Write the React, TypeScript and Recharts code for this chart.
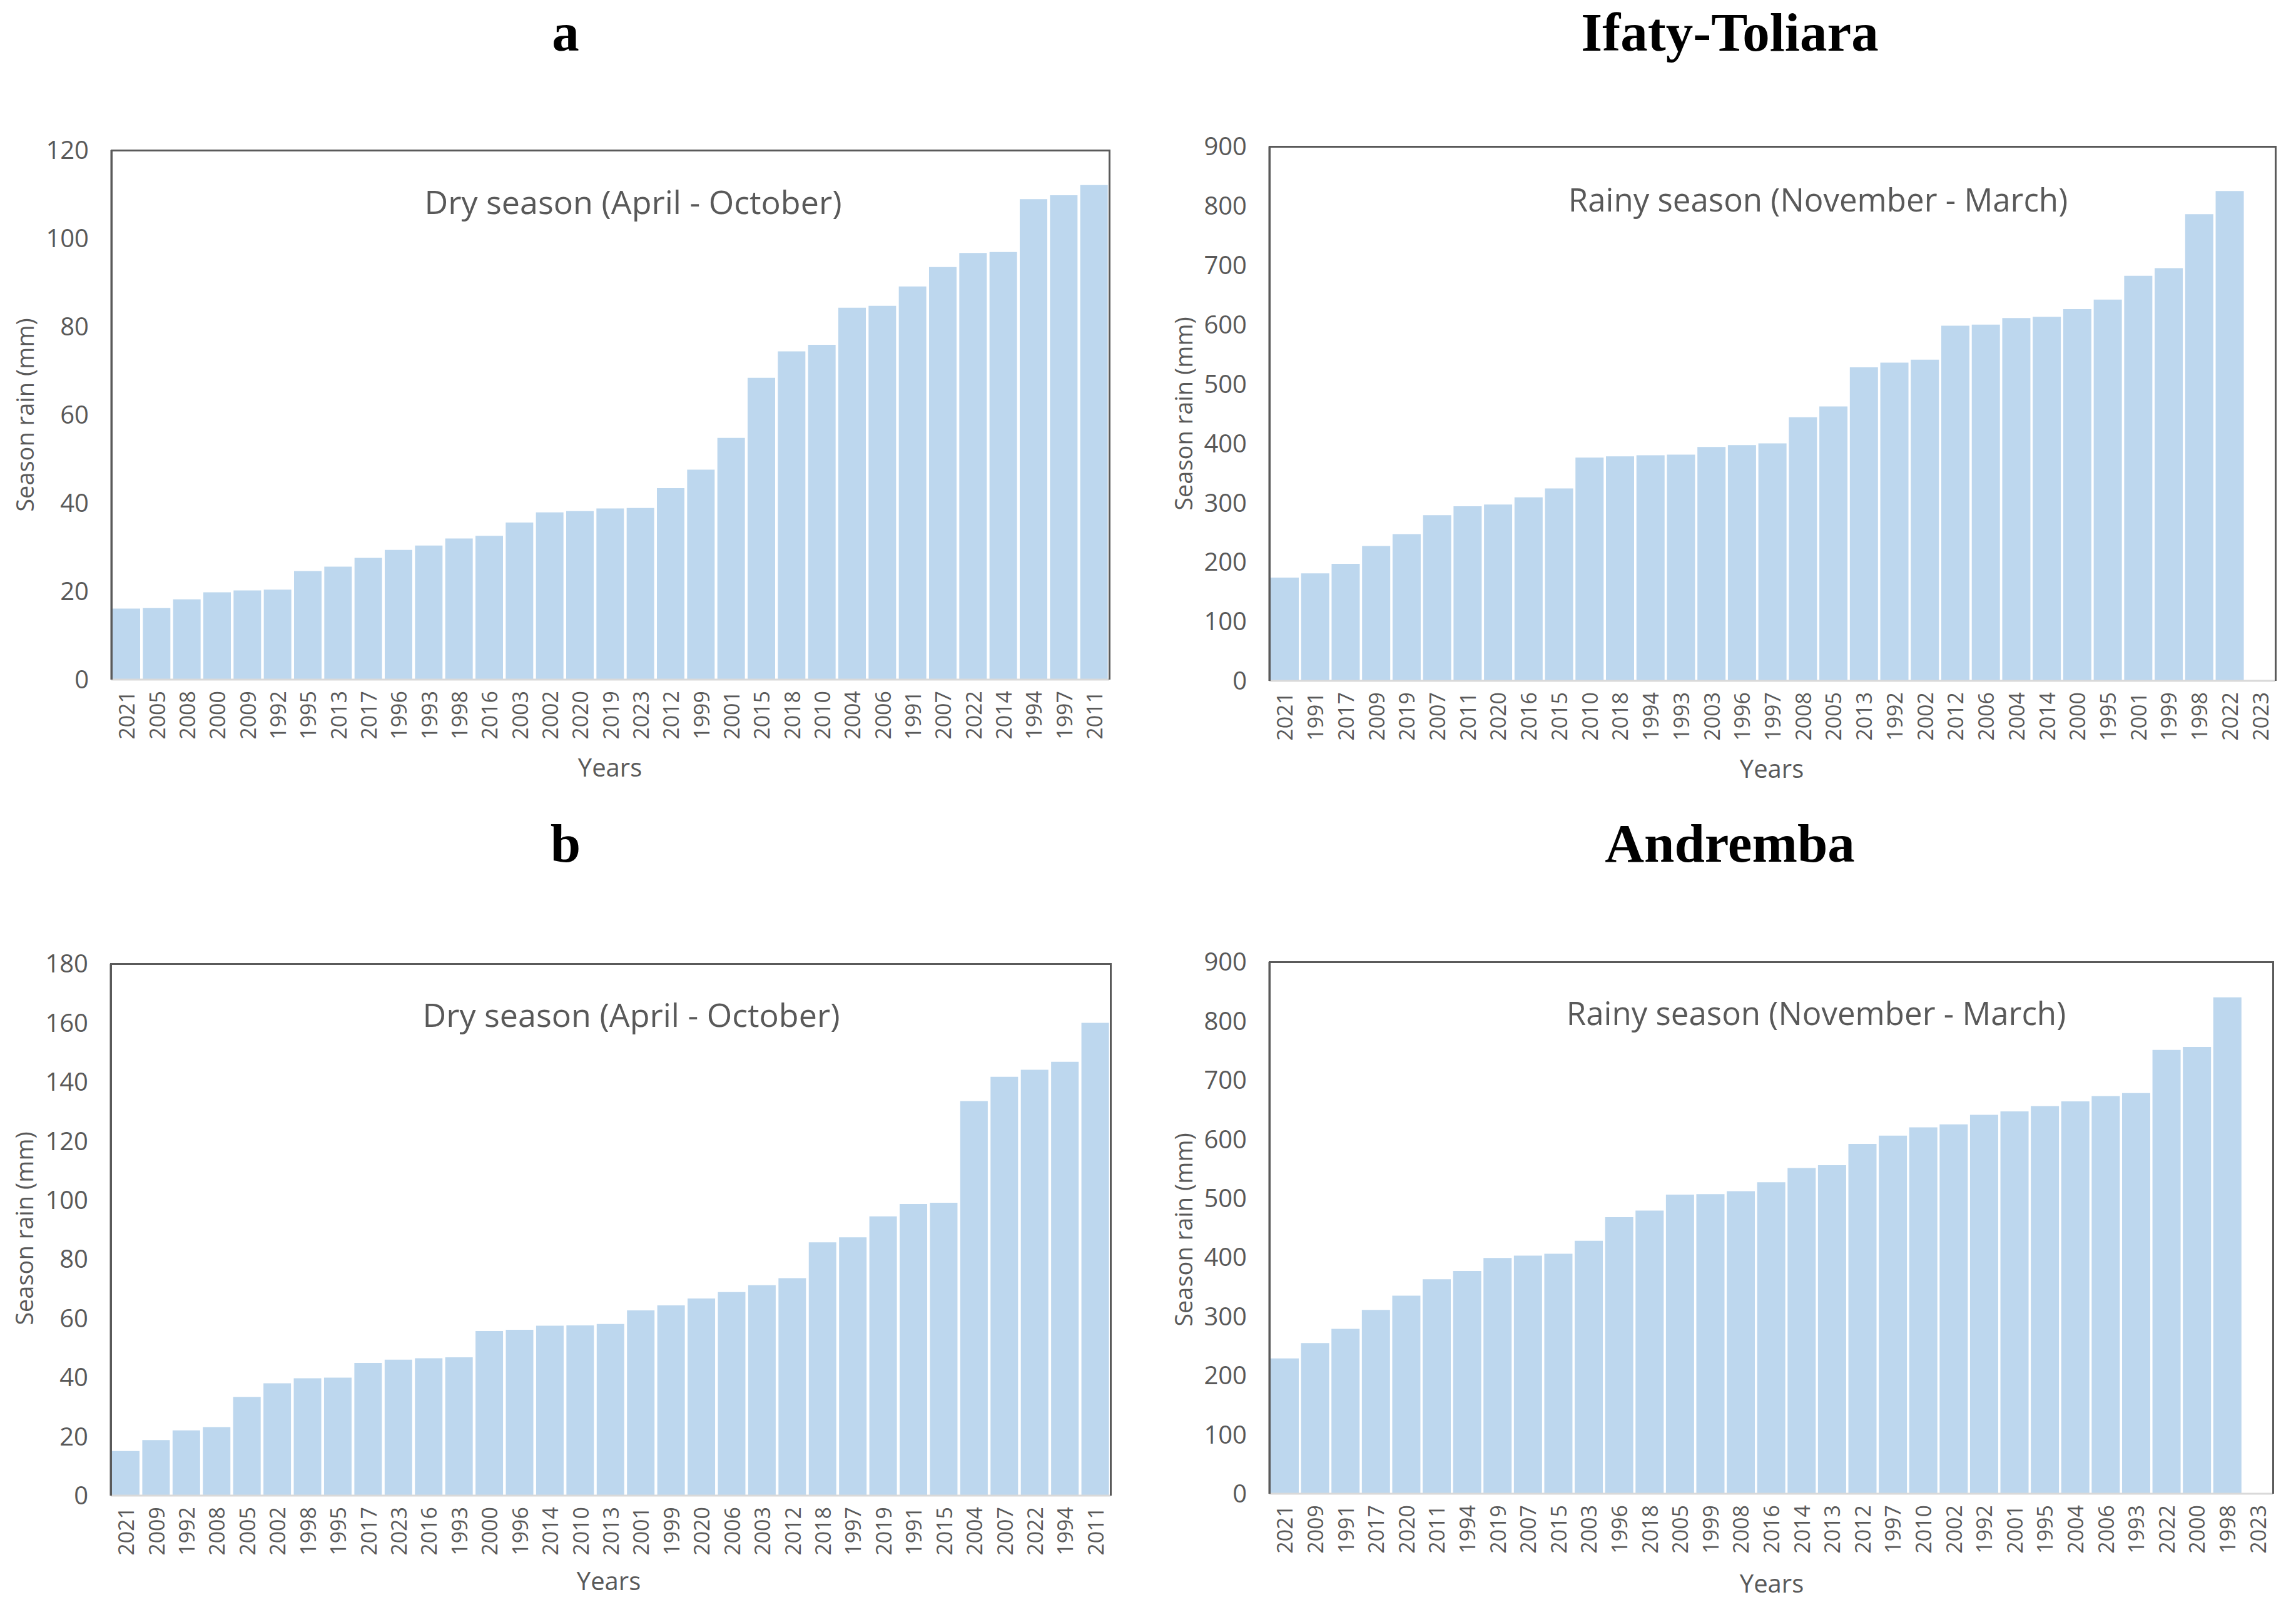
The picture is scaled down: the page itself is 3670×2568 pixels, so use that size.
import { Bar, BarChart, XAxis, YAxis } from "recharts";

// Dry season, Ifaty-Toliara (panel a, left)
const DRY_IFATY_YEARS = [
  "2021", "2005", "2008", "2000", "2009", "1992", "1995", "2013", "2017", "1996", "1993",
  "1998", "2016", "2003", "2002", "2020", "2019", "2023", "2012", "1999", "2001", "2015",
  "2018", "2010", "2004", "2006", "1991", "2007", "2022", "2014", "1994", "1997", "2011",
];
const DRY_IFATY_RAIN = [
  16.1, 16.2, 18.2, 19.8, 20.2, 20.4, 24.6, 25.6, 27.6, 29.4, 30.4,
  32.0, 32.6, 35.6, 37.9, 38.2, 38.8, 38.9, 43.4, 47.6, 54.8, 68.4,
  74.4, 75.9, 84.3, 84.7, 89.1, 93.5, 96.7, 96.9, 108.9, 109.8, 112.1,
];

// Rainy season, Ifaty-Toliara (panel a, right)
const RAINY_IFATY_YEARS = [
  "2021", "1991", "2017", "2009", "2019", "2007", "2011", "2020", "2016", "2015", "2010",
  "2018", "1994", "1993", "2003", "1996", "1997", "2008", "2005", "2013", "1992", "2002",
  "2012", "2006", "2004", "2014", "2000", "1995", "2001", "1999", "1998", "2022", "2023",
];
const RAINY_IFATY_RAIN = [
  174, 181, 197, 227, 247, 279, 294, 297, 309, 324, 376,
  378, 380, 381, 394, 397, 400, 444, 462, 528, 536, 541,
  598, 600, 611, 613, 626, 642, 682, 695, 786, 825, 0,
];

// Dry season, Andremba (panel b, left)
const DRY_ANDREMBA_YEARS = [
  "2021", "2009", "1992", "2008", "2005", "2002", "1998", "1995", "2017", "2023", "2016",
  "1993", "2000", "1996", "2014", "2010", "2013", "2001", "1999", "2020", "2006", "2003",
  "2012", "2018", "1997", "2019", "1991", "2015", "2004", "2007", "2022", "1994", "2011",
];
const DRY_ANDREMBA_RAIN = [
  15.1, 18.8, 22.1, 23.2, 33.4, 38.0, 39.7, 39.9, 44.9, 46.0, 46.5,
  46.8, 55.7, 56.1, 57.5, 57.6, 58.1, 62.7, 64.4, 66.7, 68.9, 71.2,
  73.6, 85.7, 87.4, 94.5, 98.7, 99.1, 133.5, 141.7, 144.1, 146.8, 160.0,
];

// Rainy season, Andremba (panel b, right)
const RAINY_ANDREMBA_YEARS = [
  "2021", "2009", "1991", "2017", "2020", "2011", "1994", "2019", "2007", "2015", "2003",
  "1996", "2018", "2005", "1999", "2008", "2016", "2014", "2013", "2012", "1997", "2010",
  "2002", "1992", "2001", "1995", "2004", "2006", "1993", "2022", "2000", "1998", "2023",
];
const RAINY_ANDREMBA_RAIN = [
  229, 255, 279, 311, 335, 363, 377, 399, 403, 406, 428,
  468, 479, 506, 507, 512, 527, 551, 556, 592, 606, 620,
  625, 641, 647, 656, 664, 673, 678, 751, 756, 840, 0,
];

const TICKS_DRY_A = [0, 20, 40, 60, 80, 100, 120];
const TICKS_DRY_B = [0, 20, 40, 60, 80, 100, 120, 140, 160, 180];
const TICKS_RAINY = [0, 100, 200, 300, 400, 500, 600, 700, 800, 900];

const BAR_COLOR = "#BDD7EE";
const FRAME = "#5a5a5a";
const TEXT_GREY = "#595959";
const FONT = "'Open Sans', sans-serif";

const YW = 170;
const MT = 50;
const MR = 30;
const XH = 150;

type Box = { l: number; t: number; r: number; b: number };

function rows(years: string[], rain: number[]) {
  return years.map((year, i) => ({ year, rain: rain[i] }));
}

function YearTick(props: any) {
  const { x, y, payload } = props;
  return (
    <text
      x={x}
      y={y}
      transform={`rotate(-90, ${x}, ${y})`}
      textAnchor="end"
      dominantBaseline="central"
      fontFamily={FONT}
      fontSize={34}
      fill={TEXT_GREY}
    >
      {payload.value}
    </text>
  );
}

function Panel({ data, ticks, box }: { data: { year: string; rain: number }[]; ticks: number[]; box: Box }) {
  const w = box.r - box.l + YW + MR;
  const h = box.b - box.t + MT + XH;
  return (
    <>
      <div style={{ position: "absolute", left: box.l - YW, top: box.t - MT }}>
        <BarChart width={w} height={h} data={data} margin={{ top: MT, right: MR, left: 0, bottom: 0 }} barCategoryGap={2}>
          <XAxis
            dataKey="year"
            interval={0}
            height={XH}
            tickLine={false}
            tickSize={0}
            tickMargin={18}
            axisLine={{ stroke: "#d9d9d9", strokeWidth: 3 }}
            tick={<YearTick />}
          />
          <YAxis
            width={YW}
            domain={[ticks[0], ticks[ticks.length - 1]]}
            ticks={ticks}
            interval={0}
            tickLine={false}
            tickSize={0}
            tickMargin={36}
            axisLine={{ stroke: FRAME, strokeWidth: 3 }}
            tick={{ fontFamily: FONT, fontSize: 40, fill: TEXT_GREY }}
          />
          <Bar dataKey="rain" fill={BAR_COLOR} isAnimationActive={false} />
        </BarChart>
      </div>
      {/* plot-area frame: top, left and right edges */}
      <div
        style={{
          position: "absolute",
          left: box.l - 1.5,
          top: box.t - 1.5,
          width: box.r - box.l + 3,
          height: box.b - box.t + 1.5,
          boxSizing: "border-box",
          borderTop: `3px solid ${FRAME}`,
          borderLeft: `3px solid ${FRAME}`,
          borderRight: `3px solid ${FRAME}`,
          pointerEvents: "none",
        }}
      />
    </>
  );
}

const BOX_TL: Box = { l: 178, t: 240, r: 1773, b: 1086 };
const BOX_TR: Box = { l: 2029, t: 234, r: 3637, b: 1088 };
const BOX_BL: Box = { l: 177, t: 1540, r: 1775, b: 2390 };
const BOX_BR: Box = { l: 2029, t: 1537, r: 3633, b: 2387 };

export default function App() {
  const axisText = { fontFamily: FONT, fill: TEXT_GREY };
  const title = { fontFamily: "'Liberation Serif', 'Times New Roman', serif", fontWeight: 700, fontSize: 87, fill: "#000", textAnchor: "middle" as const };
  return (
    <div style={{ position: "absolute", left: 0, top: 0, width: 3670, height: 2568, background: "#fff" }}>
      <Panel data={rows(DRY_IFATY_YEARS, DRY_IFATY_RAIN)} ticks={TICKS_DRY_A} box={BOX_TL} />
      <Panel data={rows(RAINY_IFATY_YEARS, RAINY_IFATY_RAIN)} ticks={TICKS_RAINY} box={BOX_TR} />
      <Panel data={rows(DRY_ANDREMBA_YEARS, DRY_ANDREMBA_RAIN)} ticks={TICKS_DRY_B} box={BOX_BL} />
      <Panel data={rows(RAINY_ANDREMBA_YEARS, RAINY_ANDREMBA_RAIN)} ticks={TICKS_RAINY} box={BOX_BR} />
      <svg width={3670} height={2568} style={{ position: "absolute", left: 0, top: 0, pointerEvents: "none" }}>
        <text x={904} y={81} {...title}>a</text>
        <text x={2765} y={81} {...title}>Ifaty-Toliara</text>
        <text x={904} y={1377} {...title}>b</text>
        <text x={2765} y={1377} {...title}>Andremba</text>

        <text x={1012} y={342} fontSize={52} textAnchor="middle" {...axisText}>Dry season (April - October)</text>
        <text x={2906} y={338} fontSize={51} textAnchor="middle" {...axisText}>Rainy season (November - March)</text>
        <text x={1009} y={1641} fontSize={52} textAnchor="middle" {...axisText}>Dry season (April - October)</text>
        <text x={2903} y={1638} fontSize={51} textAnchor="middle" {...axisText}>Rainy season (November - March)</text>

        <text x={39} y={663} transform="rotate(-90, 39, 663)" fontSize={38} textAnchor="middle" dominantBaseline="central" {...axisText}>Season rain (mm)</text>
        <text x={1891} y={661} transform="rotate(-90, 1891, 661)" fontSize={38} textAnchor="middle" dominantBaseline="central" {...axisText}>Season rain (mm)</text>
        <text x={38} y={1963} transform="rotate(-90, 38, 1963)" fontSize={38} textAnchor="middle" dominantBaseline="central" {...axisText}>Season rain (mm)</text>
        <text x={1891} y={1965} transform="rotate(-90, 1891, 1965)" fontSize={38} textAnchor="middle" dominantBaseline="central" {...axisText}>Season rain (mm)</text>

        <text x={975} y={1225} fontSize={40} textAnchor="middle" dominantBaseline="central" {...axisText}>Years</text>
        <text x={2832} y={1227} fontSize={40} textAnchor="middle" dominantBaseline="central" {...axisText}>Years</text>
        <text x={973} y={2525} fontSize={40} textAnchor="middle" dominantBaseline="central" {...axisText}>Years</text>
        <text x={2832} y={2529} fontSize={40} textAnchor="middle" dominantBaseline="central" {...axisText}>Years</text>
      </svg>
    </div>
  );
}
